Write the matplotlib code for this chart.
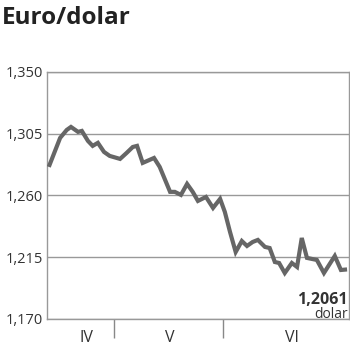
import matplotlib.pyplot as plt
from matplotlib.ticker import FixedLocator

# trading-day position and EUR/USD rate
days = [0.4, 2.8, 4.2, 5.1, 6.6, 7.4, 8.7, 9.7, 10.8, 12.1, 13.3, 15.5, 16.9,
        18.2, 19.1, 20.3, 22.7, 23.9, 26.1, 27.1, 28.4, 29.7, 30.9, 32.0,
        33.7, 35.2, 36.7, 37.7, 38.8, 40.0, 41.3, 42.4, 43.6, 44.7, 46.2,
        47.2, 48.3, 49.2, 50.4, 51.9, 53.0, 54.0, 55.1, 57.2, 58.7, 61.0,
        62.3, 63.6]
rate = [1.2808, 1.3019, 1.3077, 1.3099, 1.3063, 1.3070, 1.2997, 1.2961,
        1.2983, 1.2917, 1.2888, 1.2866, 1.2910, 1.2953, 1.2961, 1.2837,
        1.2873, 1.2808, 1.2626, 1.2626, 1.2604, 1.2684, 1.2626, 1.2560,
        1.2589, 1.2509, 1.2575, 1.2480, 1.2334, 1.2188, 1.2268, 1.2232,
        1.2261, 1.2276, 1.2225, 1.2217, 1.2115, 1.2108, 1.2035, 1.2108,
        1.2079, 1.2290, 1.2145, 1.2130, 1.2035, 1.2159, 1.2057, 1.2061]

y_ticks = [1.170, 1.215, 1.260, 1.305, 1.350]
y_labels = ['1,170', '1,215', '1,260', '1,305', '1,350']
month_edges = [14.2, 37.3]
month_centers = [8.3, 26.1, 51.9]
month_labels = ['IV', 'V', 'VI']
last_label = '1,2061'

plt.rcParams['font.family'] = ['Open Sans', 'DejaVu Sans']

fig = plt.figure(figsize=(3.5, 3.51), dpi=100)
ax = fig.add_axes([0.134, 0.0912, 0.863, 0.704])

ax.plot(days, rate, color='#666666', lw=3.0, solid_joinstyle='miter',
        solid_capstyle='butt', zorder=3)

ax.set_xlim(0, 64)
ax.set_ylim(1.170, 1.350)

ax.set_yticks(y_ticks)
ax.set_yticklabels(y_labels, fontsize=10.5, color='#333333')
ax.tick_params(axis='y', length=0, pad=3)
ax.grid(axis='y', color='#999999', lw=1)

# month separators below the axis, month names between them
ax.set_xticks(month_centers)
ax.set_xticklabels(month_labels, fontsize=11.5, color='#333333')
ax.tick_params(axis='x', which='major', length=0, pad=8)
ax.xaxis.set_minor_locator(FixedLocator(month_edges))
ax.tick_params(axis='x', which='minor', direction='out', length=14,
               width=1, color='#888888')

for side in ['left', 'bottom', 'right', 'top']:
    ax.spines[side].set_color('#999999')
    ax.spines[side].set_linewidth(1)

ax.text(63.8, 1.1840, last_label, ha='right', va='center', fontsize=11.5,
        fontweight='bold', color='#333333')
ax.text(63.8, 1.1735, 'dolar', ha='right', va='center', fontsize=10,
        color='#333333')

fig.text(0.005, 0.948, 'Euro/dolar', ha='left', va='center', fontsize=17.5,
         fontweight='bold', color='#222222')

fig.savefig('out.png', dpi=100)
